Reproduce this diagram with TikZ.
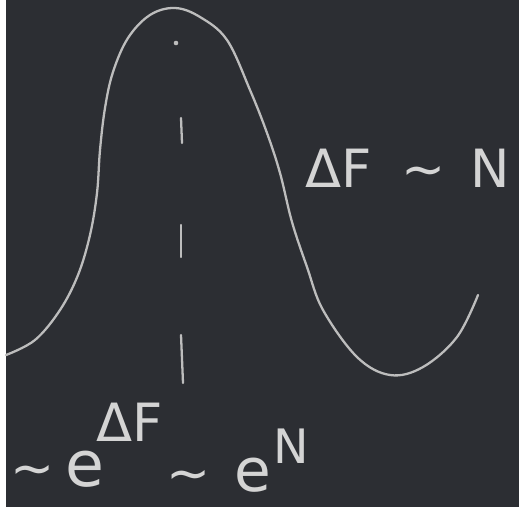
\documentclass[tikz,border=0pt]{standalone}
\usepackage{fontspec}
\setmainfont{DejaVu Sans}
\usepackage{tikz}
\usetikzlibrary{positioning}
\definecolor{board}{HTML}{2C2E33}
\definecolor{chalkline}{HTML}{BDBDBD}
\definecolor{chalktext}{HTML}{D4D4D4}

\begin{document}
\begin{tikzpicture}[
  x=0.02cm,y=-0.02cm,
  chalk/.style={draw=chalkline,line width=1.3pt,line cap=round},
  hand/.style={text=chalktext,inner sep=0pt,font=\fontsize{30}{32}\selectfont},
  handsmall/.style={hand,font=\fontsize{27}{29}\selectfont}
]
\useasboundingbox (0,0) rectangle (519,507);
\fill[white] (0,0) rectangle (6,507);
\fill[board] (6,0) rectangle (519,507);
% the bell-shaped curve
\draw[chalk] plot[smooth,tension=0.6] coordinates {
  (6,355) (35,340) (60,310) (78,275) (90,235) (97,193)
  (100,150) (105,108) (113,72) (128,38) (150,15) (175,8)
  (200,17) (227,40) (250,90) (267,133) (280,173) (292,222) (307,267)
  (323,310) (357,357) (390,375) (423,367) (457,337) (478,295)};
% dashed middle line
\fill[chalkline] (176,43) circle[radius=1.3pt];
\foreach \ya/\yb/\xb in {118/143/182,225/257/181,335/383/183}
  \draw[chalk] (181,\ya) -- (\xb,\yb);
% labels
\node[hand] (dfn) at (408,168) {ΔF\hspace{0.25em} ∼\hspace{0.15em} N};
\node[hand,anchor=base west] (tilde1e) at (10,486) {∼\hspace{0.2em}{\fontsize{36}{38}\selectfont e}};
\node[hand,anchor=base west] (dfexp) at (96,441) {ΔF};
\node[hand,anchor=base west] (tilde2e) at (166,491) {∼\hspace{0.45em}{\fontsize{34}{36}\selectfont e}};
\node[handsmall,anchor=base west] (nexp) at (273,463) {N};
\end{tikzpicture}
\end{document}
